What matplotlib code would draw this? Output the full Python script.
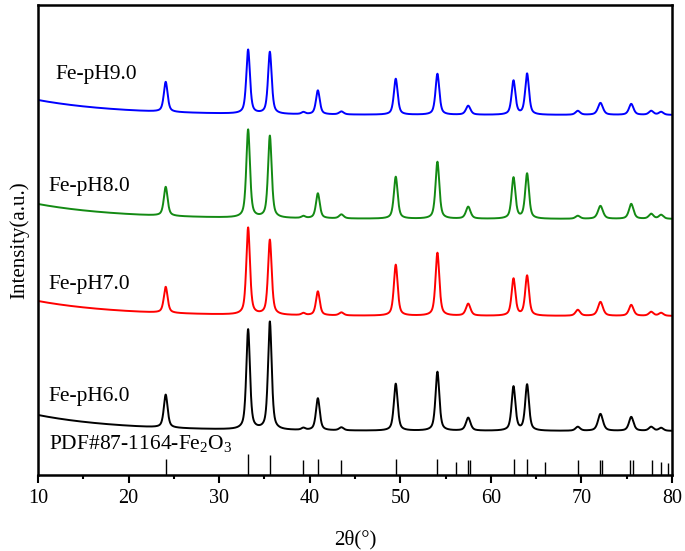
import numpy as np
import matplotlib
matplotlib.use('Agg')
import matplotlib.pyplot as plt

plt.rcParams['font.family'] = ['Liberation Serif', 'DejaVu Serif']
plt.rcParams['mathtext.fontset'] = 'custom'
plt.rcParams['mathtext.rm'] = 'Liberation Serif'
plt.rcParams['mathtext.it'] = 'Liberation Serif:italic'

# 衍射峰位置 (2θ) 和半高宽
peak_pos = [24.1, 33.2, 35.6, 39.3, 40.9, 43.5, 49.5, 54.1, 57.5, 62.5, 64.0, 69.6, 72.1, 75.5, 77.7, 78.8]
peak_fwhm = [0.5, 0.48, 0.48, 0.5, 0.5, 0.6, 0.5, 0.5, 0.6, 0.5, 0.5, 0.6, 0.65, 0.6, 0.6, 0.6]

# 各样品峰强 (任意单位)
h_ph9 = [30, 64, 62, 2, 24, 3, 36, 41, 9, 34, 41, 4, 12, 11, 4, 3]
h_ph8 = [29, 88, 82, 2, 25, 4, 42, 57, 12, 41, 45, 3, 13, 15, 5, 4]
h_ph7 = [26, 87, 75, 2, 24, 3, 51, 63, 12, 37, 40, 6, 14, 11, 4, 3]
h_ph6 = [33, 100, 108, 2, 32, 3, 47, 59, 13, 44, 46, 4, 17, 14, 4, 3]

# 背底: 左端, 右端
bg_ph9 = (375, 360)
bg_ph8 = (271, 256)
bg_ph7 = (174, 159)
bg_ph6 = (60, 44)

names = ['Fe-pH9.0', 'Fe-pH8.0', 'Fe-pH7.0', 'Fe-pH6.0']
colors = ['#0000ff', '#138a13', '#ff0000', '#000000']
label_x = [11.9, 11.1, 11.1, 11.1]
label_y = [401, 289, 190, 78]

# PDF#87-1164 标准卡片
pdf_pos = [24.1, 33.2, 35.6, 39.3, 40.9, 43.5, 49.5, 54.1, 56.2, 57.5, 57.7, 62.5, 64.0, 66.0, 69.6,
           72.0, 72.3, 75.4, 75.7, 77.8, 78.8, 79.6]
pdf_int = [16, 21, 20, 15, 16, 15, 16, 16, 13, 15, 15, 16, 16, 13, 15, 15, 15, 15, 15, 15, 13, 12]

x = np.linspace(10, 80, 4001)


def pattern(heights, bg):
    left, right = bg
    y = right + (left - right) * np.exp(-(x - 10) / 9.0)
    for p, w, h in zip(peak_pos, peak_fwhm, heights):
        g = np.exp(-4 * np.log(2) * ((x - p) / w) ** 2)
        l = 1 / (1 + 4 * ((x - p) / w) ** 2)
        y = y + h * (0.4 * g + 0.6 * l)
    return y


fig = plt.figure(figsize=(6.85, 5.51), dpi=100)
ax = fig.add_axes([38 / 685, 76 / 551, 634 / 685, 470 / 551])

all_h = [h_ph9, h_ph8, h_ph7, h_ph6]
all_bg = [bg_ph9, bg_ph8, bg_ph7, bg_ph6]
for hs, bg, c in zip(all_h, all_bg, colors):
    ax.plot(x, pattern(hs, bg), color=c, lw=1.4)

for name, lx, ly in zip(names, label_x, label_y):
    ax.text(lx, ly, name, fontsize=15.5, ha='left', va='center')

ax.text(11.2, 31, 'PDF#87-1164-Fe$_2$O$_3$', fontsize=15.5, ha='left', va='center')
ax.vlines(pdf_pos, 0, pdf_int, color='black', lw=1.0)

ax.set_xlim(10, 80)
ax.set_ylim(0, 470)
ax.set_xticks([10, 20, 30, 40, 50, 60, 70, 80])
ax.set_xticks(np.arange(15, 80, 10), minor=True)
ax.set_yticks([])
ax.tick_params(axis='x', which='major', direction='out', length=6, width=1.5, labelsize=14.5, pad=4)
ax.tick_params(axis='x', which='minor', direction='out', length=3, width=1.5)
for s in ax.spines.values():
    s.set_linewidth(1.8)

ax.set_xlabel('2θ(°)', fontsize=15, labelpad=16)
ax.set_ylabel('Intensity(a.u.)', fontsize=15, labelpad=6)

plt.savefig('out.png', dpi=100)
